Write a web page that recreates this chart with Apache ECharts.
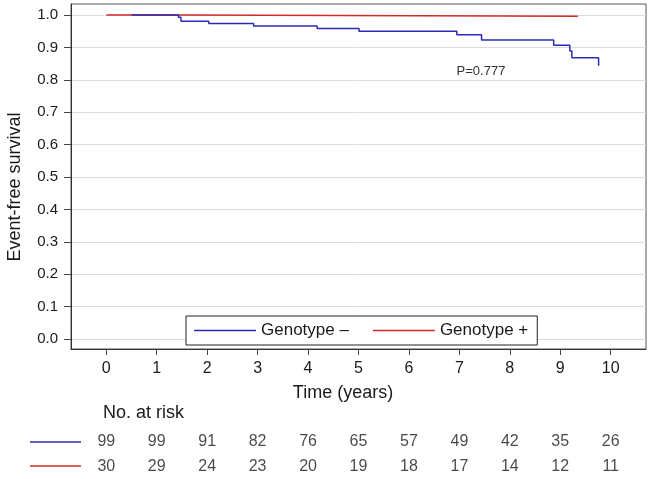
<!DOCTYPE html>
<html>
<head>
<meta charset="utf-8">
<script src="https://cdn.jsdelivr.net/npm/echarts@6/dist/echarts.min.js"></script>
<style>
html,body{margin:0;padding:0;background:#fff;}
#chart{width:650px;height:479px;}
</style>
</head>
<body>
<div id="chart"></div>
<script>
// ---- data ----
const seriesNames = ['Genotype –', 'Genotype +'];
const timeTicks = [0, 1, 2, 3, 4, 5, 6, 7, 8, 9, 10];
const survivalTicks = [0, 0.1, 0.2, 0.3, 0.4, 0.5, 0.6, 0.7, 0.8, 0.9, 1.0];
const negTimes  = [0.5, 1.43, 1.48, 2.03, 2.92, 4.18, 5.01, 6.95, 7.44, 8.87, 9.19, 9.23, 9.76];
const negSurv   = [1.0, 0.993, 0.981, 0.974, 0.966, 0.958, 0.950, 0.939, 0.923, 0.907, 0.889, 0.868, 0.843];
const posTimes  = [0, 1.52, 9.35];
const posSurv   = [1.0, 0.996, 0.996];
const riskNeg = [99, 99, 91, 82, 76, 65, 57, 49, 42, 35, 26];
const riskPos = [30, 29, 24, 23, 20, 19, 18, 17, 14, 12, 11];
const pText = 'P=0.777';

const BLUE = '#2b2bb5', RED = '#d42a2a';
const FONT = '"Liberation Sans", Arial, Helvetica, sans-serif';
const TXT = '#1a1a1a';

const chart = echarts.init(document.getElementById('chart'), null, {renderer: 'canvas'});
const zip = (a, b) => a.map((v, i) => [v, b[i]]);

const option = {
  animation: false,
  backgroundColor: '#fff',
  textStyle: {fontFamily: FONT},
  grid: [
    {left: 71, top: 4, width: 575, height: 345, show: true, borderColor: '#555', borderWidth: 1, backgroundColor: 'transparent'},
    {left: 71, top: 429, width: 575, height: 56}
  ],
  xAxis: [
    {gridIndex: 0, type: 'value', min: -0.7, max: 10.7,
     axisLine: {onZero: false, lineStyle: {color: '#333', width: 1}},
     axisTick: {show: true, inside: false, length: 6, customValues: timeTicks, lineStyle: {color: '#444'}},
     axisLabel: {customValues: timeTicks, margin: 12, fontSize: 16, color: TXT, fontFamily: FONT},
     splitLine: {show: false}},
    {gridIndex: 1, type: 'value', min: -0.7, max: 10.7, show: false}
  ],
  yAxis: [
    {gridIndex: 0, type: 'value', min: -0.031, max: 1.034,
     axisLine: {show: true, onZero: false, lineStyle: {color: '#333', width: 1}},
     axisTick: {show: true, inside: false, length: 7, customValues: survivalTicks, lineStyle: {color: '#444'}},
     axisLabel: {customValues: survivalTicks, margin: 13, fontSize: 15, color: TXT, fontFamily: FONT,
                 formatter: v => v.toFixed(1)},
     splitLine: {show: true, lineStyle: {color: '#dcdcdc', width: 1}}},
    {gridIndex: 1, type: 'category', data: ['neg', 'pos'], inverse: true, show: false}
  ],
  legend: {
    data: seriesNames, left: 186, top: 316,
    icon: 'rect', itemWidth: 62, itemHeight: 1.5, itemGap: 24,
    padding: [6, 9, 6, 8],
    borderColor: '#222', borderWidth: 1, backgroundColor: '#fff',
    textStyle: {fontSize: 17, color: TXT, fontFamily: FONT}
  },
  series: [
    {name: seriesNames[0], type: 'line', step: 'end', xAxisIndex: 0, yAxisIndex: 0,
     data: zip(negTimes, negSurv), showSymbol: false, symbol: 'none',
     lineStyle: {color: BLUE, width: 1.5}, itemStyle: {color: BLUE}, z: 3},
    {name: seriesNames[1], type: 'line', step: 'end', xAxisIndex: 0, yAxisIndex: 0,
     data: zip(posTimes, posSurv), showSymbol: false, symbol: 'none',
     lineStyle: {color: RED, width: 1.5}, itemStyle: {color: RED}, z: 2},
    {name: 'riskNeg', type: 'scatter', xAxisIndex: 1, yAxisIndex: 1, symbolSize: 0, silent: true,
     data: timeTicks.map((t, i) => [t, 'neg', riskNeg[i]]),
     label: {show: true, position: 'inside', formatter: p => String(p.value[2]), fontSize: 16, color: TXT, fontFamily: FONT}},
    {name: 'riskPos', type: 'scatter', xAxisIndex: 1, yAxisIndex: 1, symbolSize: 0, silent: true,
     data: timeTicks.map((t, i) => [t, 'pos', riskPos[i]]),
     label: {show: true, position: 'inside', formatter: p => String(p.value[2]), fontSize: 16, color: TXT, fontFamily: FONT}}
  ],
  graphic: [
    {type: 'text', x: 15, y: 187, rotation: Math.PI / 2,
     style: {text: 'Event-free survival', fontSize: 18, fontFamily: FONT, fill: TXT, align: 'center', verticalAlign: 'middle'}},
    {type: 'text', x: 343, y: 393,
     style: {text: 'Time (years)', fontSize: 18, fontFamily: FONT, fill: TXT, align: 'center', verticalAlign: 'middle'}},
    {type: 'text', x: 481, y: 71,
     style: {text: pText, fontSize: 13, fontFamily: FONT, fill: '#333', align: 'center', verticalAlign: 'middle'}},
    {type: 'text', x: 103, y: 413,
     style: {text: 'No. at risk', fontSize: 18, fontFamily: FONT, fill: TXT, align: 'left', verticalAlign: 'middle'}},
    {type: 'line', shape: {x1: 30, y1: 442, x2: 81, y2: 442}, style: {stroke: BLUE, lineWidth: 1.5}},
    {type: 'line', shape: {x1: 30, y1: 466, x2: 81, y2: 466}, style: {stroke: RED, lineWidth: 1.5}}
  ]
};
chart.setOption(option);
</script>
</body>
</html>
